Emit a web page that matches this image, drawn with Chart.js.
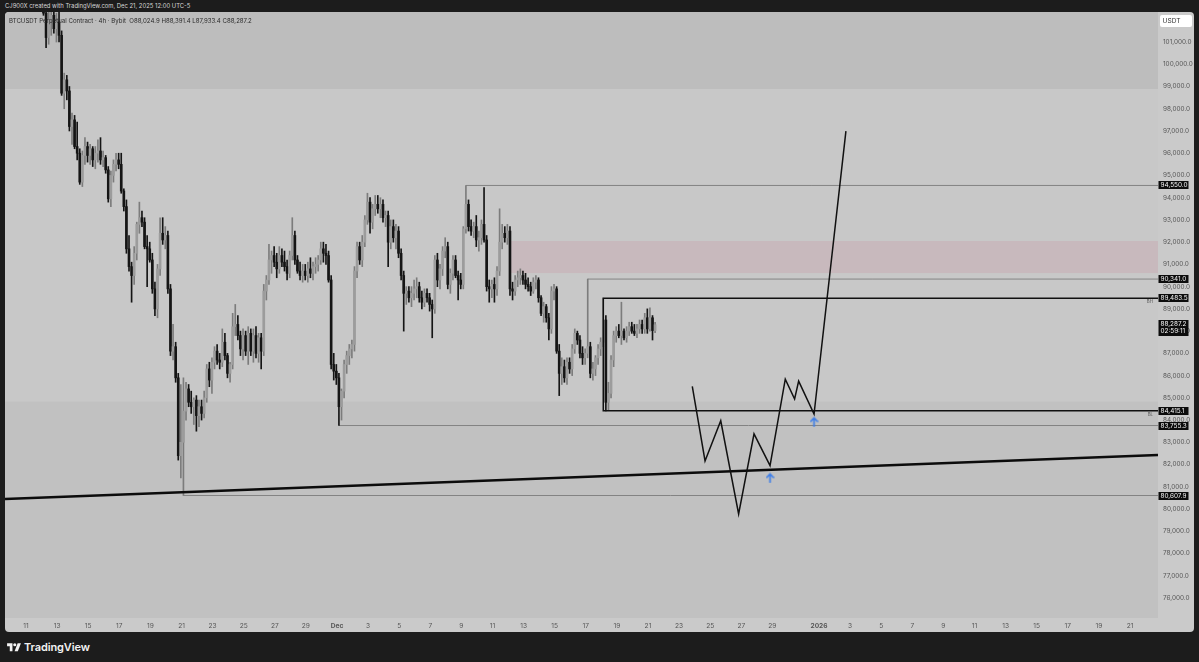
<!DOCTYPE html>
<html>
<head>
<meta charset="utf-8">
<script src="https://cdn.jsdelivr.net/npm/chart.js@4.4.1/dist/chart.umd.min.js"></script>
<style>
  html, body { margin: 0; padding: 0; width: 1199px; height: 662px; overflow: hidden; background: #1c1c1c; font-family: Inter, "Liberation Sans", sans-serif; }
  #top { position: absolute; left: 5px; top: 0; height: 12px; line-height: 12px; font-size: 5.9px; color: #d6d6d6; white-space: nowrap; }
  #panel { position: absolute; left: 5px; top: 12px; width: 1189px; height: 620px; background: #cacaca; border-radius: 4px; overflow: hidden; }
  #title { position: absolute; left: 4px; top: 5px; font-size: 6.1px; color: #2b2b2b; white-space: nowrap; z-index: 2; }
  #foot { position: absolute; left: 7px; top: 640px; height: 14px; display: flex; align-items: center; color: #f2f2f2; font-size: 11px; font-weight: 600; letter-spacing: -0.1px; }
  #foot svg { margin-right: 3px; }
</style>
</head>
<body>
<div id="top">CJ900X created with TradingView.com, Dec 21, 2025 12:00 UTC-5</div>
<div id="panel">
  <div id="title">BTCUSDT Perpetual Contract · 4h · Bybit &nbsp;O88,024.9 H88,391.4 L87,933.4 C88,287.2</div>
  <canvas id="chart" width="1189" height="620"></canvas>
</div>
<div id="foot">
  <svg width="14" height="10" viewBox="0 0 36 26"><path d="M14 24H7V11H0V3h14v21z" fill="#f2f2f2"/><circle cx="20" cy="7" r="4" fill="#f2f2f2"/><path d="M28 24h-8.5l8-21h8.5L28 24z" fill="#f2f2f2"/></svg>
  <span>TradingView</span>
</div>
<script>
// x values are days since Nov 11 00:00 (UTC-5); first candle is Nov 12 03:00, 4h apart
const candleStart = 1.125;
const candleStep = 4 / 24;

// one row per day, six 4h candles
const opens = [
  103500, 102300, 101200, 102000, 102200, 101600, // Nov 12
  101900, 101300, 98700, 99300, 98800, 97200,
  97500, 96300, 96000, 94700, 95900, 96300,
  95900, 96200, 95700, 96000, 96100, 95700,
  95800, 95250, 93950, 95000, 95500, 95700,
  95500, 94300, 93600, 91700, 90900, 90500,       // Nov 17
  91500, 92800, 93100, 92900, 91800, 91700,
  91200, 89900, 89000, 90800, 92400, 92100,
  92300, 89900, 87100, 87300, 85900, 82400,
  83000, 84400, 85400, 84800, 84600, 84900,
  84200, 84600, 84300, 85000, 86300, 85800,       // Nov 22
  86600, 87100, 86700, 86600, 87500, 86900,
  86100, 86500, 88200, 88300, 87800, 87200,
  87800, 87100, 87900, 87100, 87800, 87000,
  87700, 87100, 89800, 90300, 91200, 91400,
  91100, 90800, 91400, 91100, 90900, 90600,       // Nov 27
  91400, 92300, 91200, 90700, 90500, 90700,
  90500, 90800, 90600, 90900, 91000, 91200,
  91700, 91500, 91400, 90300, 86500, 86200,
  85900, 84600, 85300, 86500, 86900, 87200,       // Dec 1
  87400, 90700, 91800, 91200, 92000, 93000,
  93800, 92900, 93500, 93700, 93500, 93700,
  93100, 93200, 92000, 92700, 92200, 92500,
  91500, 90500, 89700, 89800, 89500, 89700,
  89900, 90000, 89500, 89300, 89700, 89500,       // Dec 6
  89200, 89000, 91200, 90300, 90800, 91600,
  91800, 90100, 90600, 91200, 90500, 90300,
  90100, 92600, 93700, 92700, 92500, 92700,
  92100, 92200, 92800, 92100, 90000, 89900,
  90100, 89900, 90700, 92000, 92400, 92200,       // Dec 11
  92500, 89900, 89800, 90300, 90400, 90500,
  90300, 90100, 90000, 89800, 90200, 90300,
  89500, 88800, 89100, 88600, 88100, 89800,
  89900, 87100, 86100, 86400, 85900, 86600,
  86300, 87200, 87900, 87600, 87000, 86800,       // Dec 16
  87000, 87300, 86100, 86300, 86800, 87200,
  87500, 88500, 84800, 85200, 86700, 87800,
  88000, 87800, 88000, 87700, 88000, 88200,
  88000, 87900, 88100, 88300, 88100, 88600,
  88100, 88600, 88024.9                            // Dec 21
];
const highs = [
  104000, 102500, 102400, 102600, 102500, 102300,
  102400, 101500, 99600, 99500, 99000, 97800,
  97700, 97400, 96200, 96100, 96700, 96500,
  96400, 96300, 96300, 96600, 96700, 96100,
  95900, 95400, 95200, 95700, 96000, 96000,
  96000, 94400, 93900, 92300, 91100, 91800,
  92900, 93800, 93400, 93100, 92300, 92000,
  91500, 90200, 91000, 93100, 93100, 92700,
  92500, 90100, 88300, 87500, 86100, 85600,
  85900, 85700, 85600, 85300, 85000, 85100,
  84900, 84900, 85300, 86500, 86600, 86800,
  87300, 87400, 87000, 88100, 87900, 87000,
  86600, 88800, 89200, 88700, 88000, 88100,
  88000, 88200, 88100, 88100, 88200, 87900,
  87900, 90100, 90500, 91900, 91600, 91800,
  91500, 91800, 91700, 91600, 91200, 91600,
  93100, 92500, 91400, 91100, 91000, 91000,
  91100, 91300, 91100, 91300, 91400, 92000,
  92000, 91900, 91600, 90500, 87000, 86500,
  86100, 85400, 86700, 87100, 87400, 87600,
  90900, 92000, 92000, 92300, 93200, 94200,
  94000, 93700, 94100, 94100, 94000, 93900,
  93400, 93400, 93000, 93000, 92800, 92700,
  91700, 90700, 90000, 90000, 90000, 90300,
  90400, 90200, 89800, 89900, 89900, 89700,
  89400, 91400, 91500, 91000, 91800, 92200,
  92000, 90800, 91400, 91400, 90700, 90600,
  92700, 94550, 93900, 93000, 92900, 93200,
  92500, 93000, 94450, 92300, 90300, 90300,
  90400, 90900, 93500, 92800, 92700, 92800,
  92700, 90200, 90500, 90700, 90800, 90700,
  90600, 90400, 90200, 90400, 90500, 90400,
  89600, 89300, 89200, 88800, 90000, 90100,
  90000, 87400, 86800, 86700, 86800, 86800,
  87400, 88100, 88000, 87800, 87300, 87200,
  90341, 87500, 86600, 86900, 87400, 87700,
  89483.5, 88700, 85700, 86900, 88000, 88200,
  88300, 89300, 88100, 88200, 88400, 88400,
  88300, 88300, 88500, 88500, 88800, 89000,
  89050, 88700, 88391.4
];
const lows = [
  102200, 100750, 100900, 101300, 101400, 101000,
  101000, 98600, 98000, 98400, 97000, 96400,
  96200, 95700, 94600, 94500, 95500, 95600,
  95500, 95400, 95300, 95600, 95500, 95400,
  95100, 93800, 93600, 94700, 95200, 95300,
  94200, 93400, 91500, 90700, 89300, 90100,
  91200, 92400, 92700, 91700, 90000, 91100,
  89700, 88700, 88600, 90500, 91900, 91700,
  89700, 86900, 86700, 85700, 82200, 81400,
  80607.9, 84000, 84600, 84300, 83800, 83500,
  83700, 84000, 84100, 84800, 85500, 85200,
  86300, 86500, 86300, 86400, 86700, 85900,
  85700, 86300, 87800, 87600, 86900, 86700,
  86900, 86500, 86900, 86600, 86800, 86600,
  86300, 86900, 89400, 90100, 90600, 90900,
  90400, 90600, 90900, 90700, 90300, 90400,
  91200, 91000, 90600, 90300, 90200, 90300,
  90200, 90400, 90300, 90600, 90700, 91000,
  91100, 91000, 90200, 86300, 85800, 85600,
  83755.3, 84000, 85000, 86100, 86500, 86800,
  87100, 90400, 91000, 90900, 91800, 92800,
  92400, 92600, 93200, 93300, 93100, 92900,
  92700, 90900, 91700, 92000, 91700, 91300,
  90300, 88000, 89200, 89300, 89100, 89400,
  89500, 89300, 89000, 89100, 89300, 88900,
  87700, 88800, 90000, 89900, 90500, 91300,
  89900, 89700, 90300, 90400, 89400, 89900,
  89900, 92400, 92500, 92300, 92200, 91800,
  91600, 91900, 92000, 89800, 89300, 89500,
  89300, 89600, 90500, 91700, 92000, 91900,
  89600, 89400, 89600, 90000, 90100, 90100,
  89900, 89800, 89600, 89700, 89900, 89300,
  88700, 88400, 88400, 87600, 87900, 89400,
  87000, 85100, 85600, 85700, 85600, 86100,
  86000, 87000, 87400, 86800, 86500, 86500,
  86800, 85900, 85800, 86000, 86500, 86900,
  87300, 84415.1, 84450, 85000, 86400, 87500,
  87700, 87400, 87600, 87500, 87800, 87900,
  87800, 87700, 87900, 87900, 87900, 87900,
  88000, 87600, 87933.4
];
const closes = [
  102300, 101200, 102000, 102200, 101600, 101900,
  101300, 98700, 99300, 98800, 97200, 97500,
  96300, 96000, 94700, 95900, 96300, 95900,
  96200, 95700, 96000, 96100, 95700, 95800,
  95250, 93950, 95000, 95500, 95700, 95500,
  94300, 93600, 91700, 90900, 90500, 91500,
  92800, 93100, 92900, 91800, 91700, 91200,
  89900, 89000, 90800, 92400, 92100, 92300,
  89900, 87100, 87300, 85900, 82400, 83000,
  84400, 85400, 84800, 84600, 84900, 84200,
  84600, 84300, 85000, 86300, 85800, 86600,
  87100, 86700, 86600, 87500, 86900, 86100,
  86500, 88200, 88300, 87800, 87200, 87800,
  87100, 87900, 87100, 87800, 87000, 87700,
  87100, 89800, 90300, 91200, 91400, 91100,
  90800, 91400, 91100, 90900, 90600, 91400,
  92300, 91200, 90700, 90500, 90700, 90500,
  90800, 90600, 90900, 91000, 91200, 91700,
  91500, 91400, 90300, 86500, 86200, 85900,
  84600, 85300, 86500, 86900, 87200, 87400,
  90700, 91800, 91200, 92000, 93000, 93800,
  92900, 93500, 93700, 93500, 93700, 93100,
  93200, 92000, 92700, 92200, 92500, 91500,
  90500, 89700, 89800, 89500, 89700, 89900,
  90000, 89500, 89300, 89700, 89500, 89200,
  89000, 91200, 90300, 90800, 91600, 91800,
  90100, 90600, 91200, 90500, 90300, 90100,
  92600, 93700, 92700, 92500, 92700, 92100,
  92200, 92800, 92100, 90000, 89900, 90100,
  89900, 90700, 92000, 92400, 92200, 92500,
  89900, 89800, 90300, 90400, 90500, 90300,
  90100, 90000, 89800, 90200, 90300, 89500,
  88800, 89100, 88600, 88100, 89800, 89900,
  87100, 86100, 86400, 85900, 86600, 86300,
  87200, 87900, 87600, 87000, 86800, 87000,
  87300, 86100, 86300, 86800, 87200, 87500,
  88500, 84800, 85200, 86700, 87800, 88000,
  87800, 88000, 87700, 88000, 88200, 88000,
  87900, 88100, 88300, 88100, 88600, 88100,
  88600, 88024.9, 88287.2
];

// time axis
const tickDays = [0, 2, 4, 6, 8, 10, 12, 14, 16, 18,
  20, 22, 24, 26, 28, 30, 32, 34, 36, 38, 40, 42, 44, 46, 48,
  51, 53, 55, 57, 59, 61, 63, 65, 67, 69, 71];
const tickLabels = ['11', '13', '15', '17', '19', '21', '23', '25', '27', '29',
  'Dec', '3', '5', '7', '9', '11', '13', '15', '17', '19', '21', '23', '25', '27', '29',
  '2026', '3', '5', '7', '9', '11', '13', '15', '17', '19', '21'];
const priceTicks = [76000, 77000, 78000, 79000, 80000, 81000, 82000, 83000, 84000, 85000,
  86000, 87000, 88000, 89000, 90000, 91000, 92000, 93000, 94000, 95000, 96000, 97000,
  98000, 99000, 100000, 101000];

// drawings
const levelPrices = [94550, 90341, 83755.3, 80607.9];
const levelStartDays = [28.29, 36.125, 20.125, 10.125];
const rangePrices = [89483.5, 84415.1];
const rangeStartDay = 37.125;
const trendDays = [-1.35, 72.8];
const trendPrices = [80450, 82430];
const pathDays = [42.85, 43.67, 44.68, 45.83, 46.82, 47.85, 48.83, 49.43, 49.69, 50.68, 52.73];
const pathPrices = [85520, 82160, 83970, 79780, 83380, 81950, 85840, 84950, 85750, 84270, 96990];
const arrowDays = [47.85, 50.68];
const arrowPrices = [81400, 83920];
const upperBand = [98890, 102350];
const lowerBand = [75100, 84830];
const supplyZone = [90613, 92052];
const supplyStartDay = 31.12;
const axisBadges = [94550.0, 90341.0, 89483.5, 84415.1, 83755.3, 80607.9];
const lastPrice = 88287.2;
const countdown = '02:59:11';

const xMin = -1.35, xMax = 72.8, yMin = 75100, yMax = 102350;

const fmt = v => v.toLocaleString('en-US', { minimumFractionDigits: 1, maximumFractionDigits: 1 });
const tickMap = new Map(tickDays.map((d, i) => [d, tickLabels[i]]));

const xs = opens.map((_, i) => candleStart + i * candleStep);
const isUp = opens.map((o, i) => closes[i] >= o);

function arrowIcon() {
  const c = document.createElement('canvas');
  c.width = 9; c.height = 11;
  const g = c.getContext('2d');
  g.strokeStyle = '#3f7fe8';
  g.lineWidth = 1.7;
  g.lineCap = 'round';
  g.lineJoin = 'round';
  g.beginPath();
  g.moveTo(4.5, 10); g.lineTo(4.5, 1.8);
  g.moveTo(1.2, 5); g.lineTo(4.5, 1.5); g.lineTo(7.8, 5);
  g.stroke();
  return c;
}

const backdrop = {
  id: 'backdrop',
  beforeDatasetsDraw(chart) {
    const { ctx, chartArea: a, scales: { x, y } } = chart;
    ctx.save();
    ctx.fillStyle = '#c8c8c8';
    ctx.fillRect(a.left, a.top, a.width, a.height);
    const band = (lo, hi, left, color) => {
      const t = y.getPixelForValue(hi), b = y.getPixelForValue(lo);
      ctx.fillStyle = color;
      ctx.fillRect(left, t, a.right - left, b - t);
    };
    band(upperBand[0], upperBand[1], a.left, '#bdbdbd');
    band(lowerBand[0], lowerBand[1], a.left, '#c1c1c1');
    band(supplyZone[0], supplyZone[1], x.getPixelForValue(supplyStartDay), '#c8b9bd');
    ctx.restore();
  },
  afterDraw(chart) {
    const { ctx, chartArea: a, scales: { y } } = chart;
    const left = a.right + 0.5;
    ctx.save();
    ctx.font = '6.4px Inter, "Liberation Sans", sans-serif';
    ctx.textBaseline = 'middle';
    axisBadges.forEach(v => {
      const py = Math.round(y.getPixelForValue(v));
      ctx.fillStyle = '#0c0c0c';
      ctx.fillRect(left, py - 4, 30, 8);
      ctx.fillStyle = '#f4f4f4';
      ctx.fillText(fmt(v), left + 2, py + 0.3);
    });
    const lp = Math.round(y.getPixelForValue(lastPrice));
    ctx.fillStyle = '#0c0c0c';
    ctx.fillRect(left, lp - 5, 30, 16);
    ctx.fillStyle = '#f4f4f4';
    ctx.fillText(fmt(lastPrice), left + 2, lp - 0.5);
    ctx.fillText(countdown, left + 2, lp + 6.5);

    ctx.fillStyle = '#ffffff';
    ctx.beginPath();
    ctx.roundRect(left + 1.5, 3, 32, 12, 2);
    ctx.fill();
    ctx.fillStyle = '#333';
    ctx.font = '6.6px Inter, "Liberation Sans", sans-serif';
    ctx.fillText('USDT', left + 4, 9.3);

    ctx.fillStyle = '#555';
    ctx.font = '4.4px Inter, "Liberation Sans", sans-serif';
    ctx.textAlign = 'right';
    ctx.fillText('BH', a.right - 5, y.getPixelForValue(rangePrices[0]) + 4);
    ctx.fillText('BL', a.right - 5, y.getPixelForValue(rangePrices[1]) + 4);
    ctx.restore();
  }
};

const line = (points, color, width, order) => ({
  type: 'line', data: points, borderColor: color, borderWidth: width,
  pointRadius: 0, fill: false, tension: 0, order
});

const datasets = [
  ...levelPrices.map((p, i) => line([{ x: levelStartDays[i], y: p }, { x: xMax, y: p }], '#838383', 1, 9)),
  line([{ x: xMax, y: rangePrices[0] }, { x: rangeStartDay, y: rangePrices[0] },
        { x: rangeStartDay, y: rangePrices[1] }, { x: xMax, y: rangePrices[1] }], '#101010', 1.5, 3),
  line(trendDays.map((d, i) => ({ x: d, y: trendPrices[i] })), '#0b0b0b', 2.5, 4),
  {
    type: 'bar', data: xs.map((x, i) => ({ x, y: [lows[i], highs[i]] })),
    backgroundColor: isUp.map(u => u ? '#7c7c7c' : '#151515'),
    barThickness: 1, grouped: false, order: 6
  },
  {
    type: 'bar', data: xs.map((x, i) => ({ x, y: [opens[i], closes[i]] })),
    backgroundColor: isUp.map(u => u ? '#9c9c9c' : '#151515'),
    borderColor: isUp.map(u => u ? '#747474' : '#151515'), borderWidth: 0,
    barThickness: 2, minBarLength: 1, grouped: false, order: 5
  },
  line(pathDays.map((d, i) => ({ x: d, y: pathPrices[i] })), '#111111', 1.5, 2),
  {
    type: 'line', data: arrowDays.map((d, i) => ({ x: d, y: arrowPrices[i] })),
    showLine: false, pointStyle: arrowIcon(), pointRadius: 5, order: 1
  }
];

new Chart(document.getElementById('chart'), {
  type: 'bar',
  data: { datasets },
  plugins: [backdrop],
  options: {
    responsive: false,
    animation: false,
    layout: { padding: 0, autoPadding: false },
    plugins: { legend: { display: false }, tooltip: { enabled: false } },
    scales: {
      x: {
        type: 'linear', min: xMin, max: xMax, offset: false,
        grid: { display: false, drawTicks: false }, border: { display: false },
        afterBuildTicks: s => { s.ticks = tickDays.map(v => ({ value: v })); },
        afterFit: s => { s.height = 14; s.paddingLeft = 0; s.paddingRight = 0; },
        ticks: {
          autoSkip: false, maxRotation: 0, padding: 4, color: '#565656',
          font: c => ({ size: 6.6, family: 'Inter, "Liberation Sans", sans-serif',
            weight: (c.tick && /[A-Za-z]|2026/.test(tickMap.get(c.tick.value))) ? 'bold' : 'normal' }),
          callback: v => tickMap.get(v) || ''
        }
      },
      y: {
        type: 'linear', position: 'right', min: yMin, max: yMax,
        grid: { display: false, drawTicks: false }, border: { display: false },
        afterBuildTicks: s => { s.ticks = priceTicks.map(v => ({ value: v })); },
        afterFit: s => { s.width = 36; s.paddingTop = 0; s.paddingBottom = 0; },
        ticks: {
          padding: 5, color: '#565656',
          font: { size: 6.4, family: 'Inter, "Liberation Sans", sans-serif' },
          callback: v => fmt(v)
        }
      }
    }
  }
});
</script>
</body>
</html>
